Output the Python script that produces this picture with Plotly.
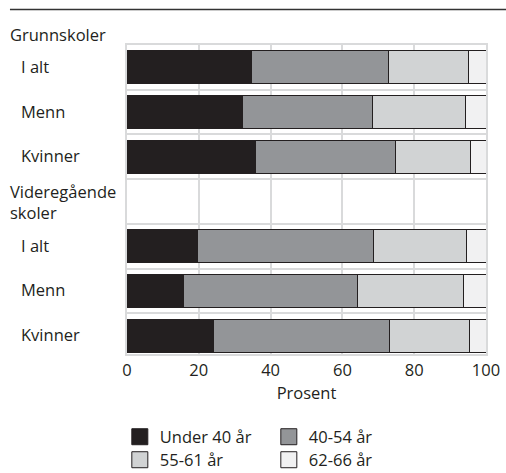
import plotly.graph_objects as go

# ---- data ----
group_labels = ["Grunnskoler", "Videregående<br>skoler"]
row_labels = ["I alt", "Menn", "Kvinner", "", "I alt", "Menn", "Kvinner"]
series_names = ["Under 40 år", "40-54 år", "55-61 år", "62-66 år"]
under_40 = [34.7, 32.1, 35.9, None, 19.7, 15.6, 24.1]
age_40_54 = [38.2, 36.4, 39.0, None, 49.0, 48.6, 49.1]
age_55_61 = [22.3, 25.7, 20.7, None, 25.8, 29.5, 22.2]
age_62_66 = [4.8, 5.8, 4.4, None, 5.5, 6.3, 4.6]
x_ticks = [0, 20, 40, 60, 80, 100]

colors = ["#231f20", "#939598", "#d1d3d4", "#f1f1f2"]
legend_ids = ["legend", "legend", "legend2", "legend2"]
edge = "#231f20"
grid = "#d9dadb"
txt = "#231f20"
font_family = "Open Sans"
fs = 16.5

ypos = list(range(len(row_labels)))
fig = go.Figure()
for name, vals, col in zip(series_names, [under_40, age_40_54, age_55_61, age_62_66], colors):
    fig.add_trace(go.Bar(
        y=ypos, x=vals, orientation="h", name=name,
        marker=dict(color=col, line=dict(color=edge, width=1)),
        width=0.74, showlegend=False, hoverinfo="x",
    ))
# legend entries
for name, col, lg in zip(series_names, colors, legend_ids):
    fig.add_trace(go.Scatter(
        x=[None], y=[None], mode="markers", name=name, legend=lg,
        marker=dict(symbol="square", size=16, color=col, line=dict(color=edge, width=1)),
    ))

annotations = []
for i, lab in enumerate(row_labels):
    if lab:
        annotations.append(dict(
            text=lab, xref="paper", yref="y", x=-0.300, y=i, yshift=1,
            xanchor="left", yanchor="middle", showarrow=False,
            font=dict(size=fs, color=txt, family=font_family),
        ))
annotations.append(dict(
    text=group_labels[0], xref="paper", yref="paper", x=-0.332, y=1.0, yshift=-3,
    xanchor="left", yanchor="bottom", showarrow=False,
    font=dict(size=fs, color=txt, family=font_family),
))
annotations.append(dict(
    text=group_labels[1], xref="paper", yref="y", x=-0.332, y=3,
    xanchor="left", yanchor="middle", showarrow=False, align="left",
    font=dict(size=fs, color=txt, family=font_family),
))

legend_common = dict(orientation="h", x=-0.02, xanchor="left", yanchor="top",
                     traceorder="normal", entrywidth=104,
                     font=dict(size=fs, color=txt, family=font_family),
                     itemsizing="trace", bgcolor="rgba(0,0,0,0)")

fig.update_layout(
    width=506, height=473,
    margin=dict(l=127, r=20, t=45, b=119, autoexpand=False),
    barmode="stack",
    plot_bgcolor="white", paper_bgcolor="white",
    font=dict(family=font_family, size=fs, color=txt),
    annotations=annotations,
    shapes=[dict(type="line", xref="paper", yref="paper",
                 x0=-0.326, x1=1.06, y0=1.115, y1=1.115,
                 line=dict(color="#333333", width=1.5))],
    legend=dict(y=-0.212, **legend_common),
    legend2=dict(y=-0.212 - 0.0744, **legend_common),
    xaxis=dict(range=[0, 100], tickvals=x_ticks, showgrid=True, gridcolor=grid, gridwidth=2,
               zeroline=False, showline=True, mirror=True, linecolor=grid, linewidth=2,
               ticks="", automargin=False,
               title=dict(text="Prosent", standoff=6, font=dict(size=fs, color=txt)),
               tickfont=dict(size=fs, color=txt)),
    yaxis=dict(range=[6.41, -0.5], tickvals=[0.5, 1.5, 2.5, 3.5, 4.5, 5.5],
               showticklabels=False, showgrid=True, gridcolor=grid, gridwidth=2,
               zeroline=False, showline=True, mirror=True, linecolor=grid, linewidth=2,
               ticks="", automargin=False),
)

fig.write_html("out.html", config={"displayModeBar": False},
               post_script="document.body.style.margin='0';")
